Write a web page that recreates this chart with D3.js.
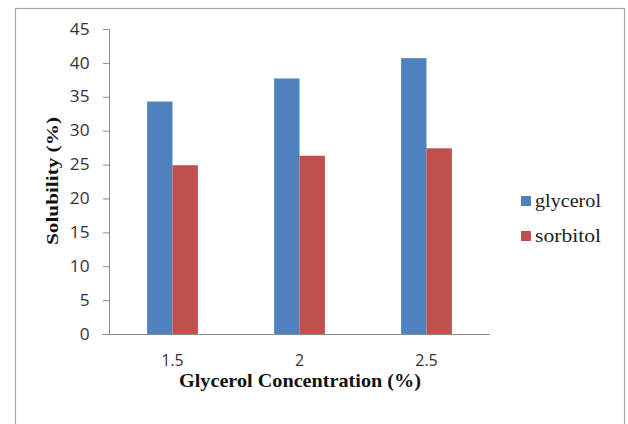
<!DOCTYPE html>
<html><head><meta charset="utf-8">
<script src="https://cdn.jsdelivr.net/npm/d3@7"></script>
<style>body{margin:0;background:#fff}</style>
</head><body>
<svg id="c" width="628" height="424"></svg>
<script>
const categories = ["1.5", "2", "2.5"];
const seriesNames = ["glycerol", "sorbitol"];
const glycerol = [34.3, 37.7, 40.7];
const sorbitol = [24.9, 26.3, 27.4];
const yTicks = [0, 5, 10, 15, 20, 25, 30, 35, 40, 45];
const colors = ["#4F81BD", "#C0504D"];

const svg = d3.select("#c");
svg.append("rect").attr("x", 15.5).attr("y", 8.5).attr("width", 609).attr("height", 430)
  .attr("fill", "#fff").attr("stroke", "#a6a6a6").attr("stroke-width", 1.2);

const L = 109, R = 490, T = 29, B = 334;
const x = d3.scaleBand().domain(categories).range([L, R]).paddingInner(0.6).paddingOuter(0.3);
const xs = d3.scaleBand().domain(seriesNames).range([0, x.bandwidth()]);
const y = d3.scaleLinear().domain([0, 45]).range([B, T]);

const data = [glycerol, sorbitol];
seriesNames.forEach((s, si) => {
  svg.append("g").selectAll("rect").data(categories).join("rect")
    .attr("x", c => x(c) + xs(s))
    .attr("width", xs.bandwidth())
    .attr("y", (c, i) => y(data[si][i]))
    .attr("height", (c, i) => B - y(data[si][i]))
    .attr("fill", colors[si]);
});

const tickFont = "Open Sans, sans-serif";
const yAxis = svg.append("g").attr("transform", `translate(${L},0)`)
  .call(d3.axisLeft(y).tickValues(yTicks).tickSize(6).tickPadding(12));
yAxis.select(".domain").attr("stroke", "#8c8c8c");
yAxis.selectAll(".tick line").attr("stroke", "#8c8c8c");
yAxis.selectAll("text").attr("font-family", tickFont).attr("font-size", 16)
  .attr("fill", "#333").attr("transform", "scale(1.08,1)");

const xAxis = svg.append("g").attr("transform", `translate(0,${B})`)
  .call(d3.axisBottom(x).tickSize(0).tickPadding(21));
xAxis.select(".domain").attr("d", `M${L - 7},0.5H${R}`).attr("stroke", "#8c8c8c");
xAxis.selectAll("text").attr("font-family", tickFont).attr("font-size", 16)
  .attr("fill", "#333");

const serif = "Liberation Serif, Times New Roman, serif";
svg.append("text").attr("x", 179).attr("y", 387)
  .attr("font-family", serif).attr("font-weight", "bold")
  .attr("font-size", 19).attr("fill", "#111")
  .attr("textLength", 242).attr("lengthAdjust", "spacingAndGlyphs")
  .text("Glycerol Concentration (%)");

svg.append("text").attr("transform", "translate(58,245) rotate(-90)")
  .attr("font-family", serif).attr("font-weight", "bold")
  .attr("font-size", 17).attr("fill", "#111")
  .attr("textLength", 128).attr("lengthAdjust", "spacingAndGlyphs")
  .text("Solubility  (%)");

const lg = svg.append("g");
seriesNames.forEach((s, i) => {
  const cy = 201 + i * 35;
  lg.append("rect").attr("x", 521).attr("y", cy - 5).attr("width", 10).attr("height", 10).attr("fill", colors[i]);
  lg.append("text").attr("x", 535).attr("y", cy + 6)
    .attr("font-family", serif).attr("font-size", 19)
    .attr("fill", "#222").attr("textLength", 66).attr("lengthAdjust", "spacingAndGlyphs").text(s);
});
</script>
</body></html>
